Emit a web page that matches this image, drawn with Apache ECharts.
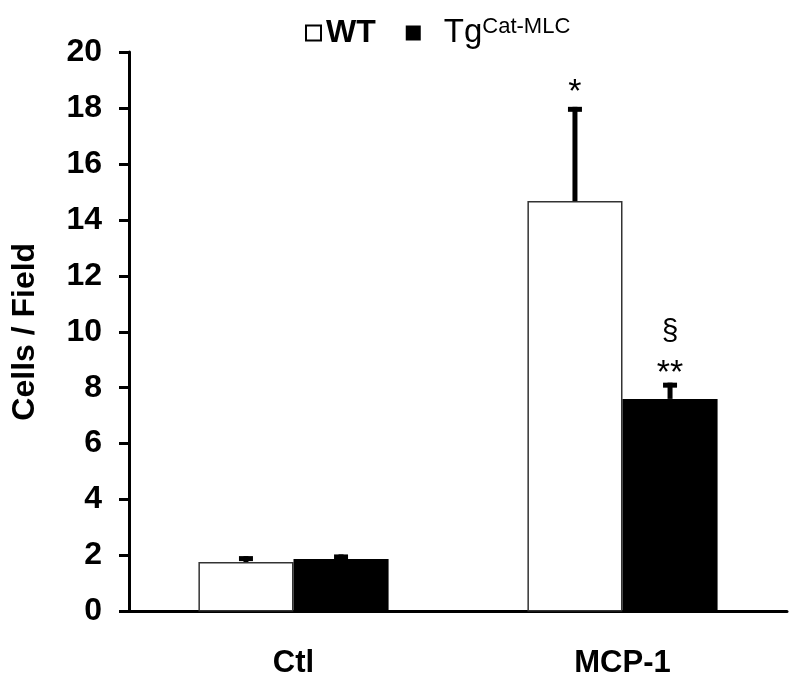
<!DOCTYPE html>
<html><head><meta charset="utf-8">
<script src="https://cdn.jsdelivr.net/npm/echarts@6/dist/echarts.min.js"></script>
<style>html,body{margin:0;padding:0;background:#fff}#c{width:800px;height:687px}</style>
</head><body><div id="c"></div>
<script>
const categories = ['Ctl', 'MCP-1'];
const seriesNames = ['WT', 'Tg'];
const wtValues = [1.77, 14.67];
const wtErrors = [0.21, 3.37];
const tgValues = [1.88, 7.6];
const tgErrors = [0.16, 0.58];
const wtStars = ['', '*'];
const tgStars = ['', '**'];
const tgSection = ['', '§'];
const yTicks = [0, 20, 2];

const FONT = 'Liberation Sans, Arial, sans-serif';
const GAP = 0.422;

function errSeries(vals, errs, stars, sects, idx) {
  return {
    type: 'custom', silent: true, z: 5,
    data: vals.map((v, i) => [i, v, errs[i]]),
    renderItem: function (params, api) {
      const i = api.value(0), v = api.value(1), e = api.value(2);
      const band = api.size([1, 0])[0];
      const bw = band * (1 - GAP) / 2;
      const c = api.coord([i, v]);
      const x = c[0] + (idx === 0 ? -bw / 2 : bw / 2);
      const top = api.coord([i, v + e])[1];
      const children = [
        { type: 'line', shape: { x1: x, y1: c[1], x2: x, y2: top }, style: { stroke: '#000', lineWidth: 5 } },
        { type: 'line', shape: { x1: x - 7, y1: top + 2.5, x2: x + 7, y2: top + 2.5 }, style: { stroke: '#000', lineWidth: 5 } }
      ];
      const s = stars[i];
      if (s) {
        const off = s.length === 1 ? 14 : 9;
        children.push({ type: 'text', style: { text: s, x: x, y: top - off, align: 'center', verticalAlign: 'middle', font: '34px ' + FONT, fill: '#000' } });
      }
      const t = sects ? sects[i] : '';
      if (t) {
        children.push({ type: 'text', style: { text: t, x: x, y: top - 51, align: 'center', verticalAlign: 'middle', font: '30px ' + FONT, fill: '#000' } });
      }
      return { type: 'group', children: children };
    }
  };
}

const chart = echarts.init(document.getElementById('c'));
chart.setOption({
  animation: false,
  backgroundColor: '#fff',
  grid: { left: 129, right: 13, top: 52, bottom: 75.5 },
  legend: {
    top: 11, left: 300, itemGap: 30, itemWidth: 15, itemHeight: 15,
    data: [
      { name: 'WT', icon: 'rect', itemStyle: { color: '#fff', borderColor: '#000', borderWidth: 2 } },
      { name: 'Tg', icon: 'rect', itemStyle: { color: '#000' } }
    ],
    formatter: function (n) { return n === 'WT' ? '{b|WT}' : '{n|Tg}{s|Cat-MLC}'; },
    textStyle: {
      rich: {
        b: { fontFamily: FONT, fontSize: 32, fontWeight: 'bold', color: '#000', lineHeight: 34 },
        n: { fontFamily: FONT, fontSize: 33, color: '#000', lineHeight: 34, padding: [0, 0, 0, 18] },
        s: { fontFamily: FONT, fontSize: 22, color: '#000', verticalAlign: 'top', lineHeight: 16 }
      }
    }
  },
  xAxis: {
    type: 'category', data: categories,
    axisLine: { lineStyle: { color: '#000', width: 3 } },
    axisTick: { show: false },
    axisLabel: { color: '#000', fontFamily: FONT, fontSize: 31, fontWeight: 'bold', margin: 36 }
  },
  yAxis: {
    type: 'value', min: yTicks[0], max: yTicks[1], interval: yTicks[2],
    name: 'Cells / Field', nameLocation: 'middle', nameGap: 88,
    nameTextStyle: { color: '#000', fontFamily: FONT, fontSize: 32, fontWeight: 'bold' },
    splitLine: { show: false },
    axisLine: { show: true, lineStyle: { color: '#000', width: 3 } },
    axisTick: { show: true, length: 10, lineStyle: { color: '#000', width: 3 } },
    axisLabel: { color: '#000', fontFamily: FONT, fontSize: 32, fontWeight: 'bold', margin: 27 }
  },
  series: [
    { name: seriesNames[0], type: 'bar', data: wtValues, barGap: '0%', barCategoryGap: (GAP * 100) + '%',
      itemStyle: { color: '#fff', borderColor: '#333', borderWidth: 1.5 } },
    { name: seriesNames[1], type: 'bar', data: tgValues, barGap: '0%', barCategoryGap: (GAP * 100) + '%',
      itemStyle: { color: '#000' } },
    errSeries(wtValues, wtErrors, wtStars, null, 0),
    errSeries(tgValues, tgErrors, tgStars, tgSection, 1)
  ]
});
</script></body></html>
